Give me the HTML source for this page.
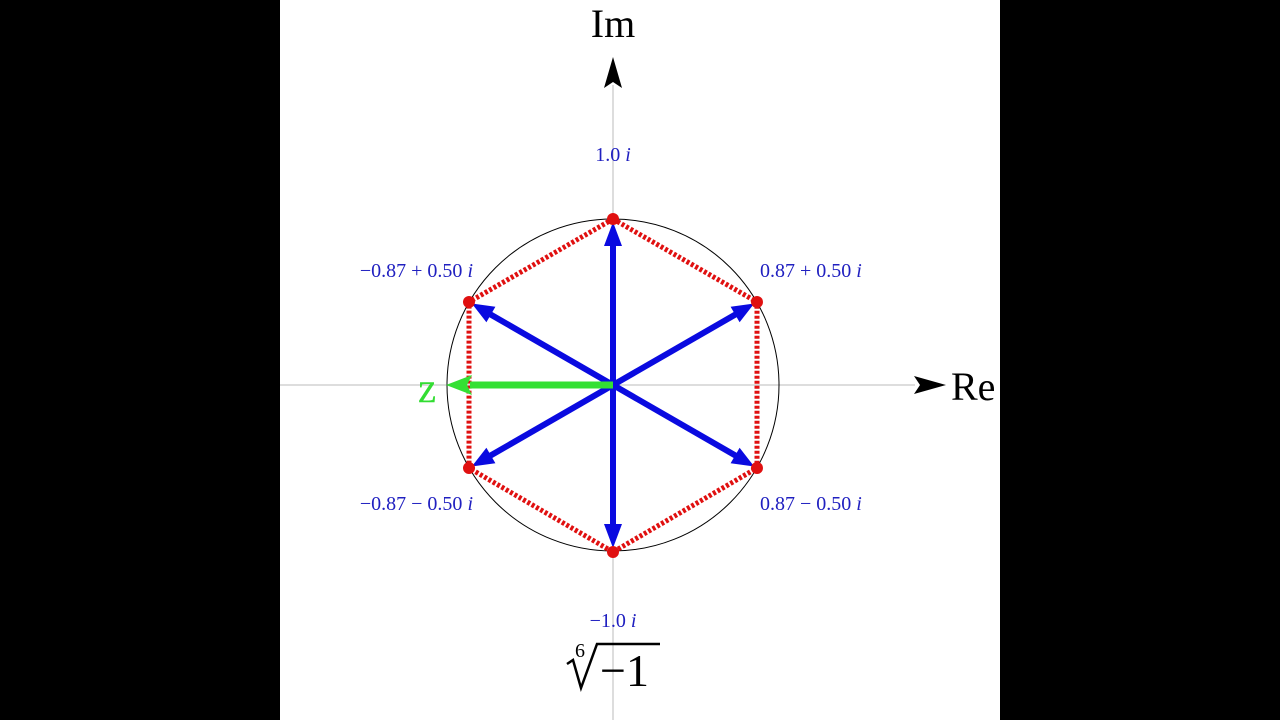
<!DOCTYPE html>
<html><head><style>body{margin:0;background:#000}svg{display:block}</style></head>
<body>
<svg width="1280" height="720" xmlns="http://www.w3.org/2000/svg" font-family="Liberation Serif, serif">
<rect x="0" y="0" width="1280" height="720" fill="#000"/>
<rect x="280" y="0" width="720" height="720" fill="#fff"/>
<line x1="280" y1="385" x2="915" y2="385" stroke="#bbb" stroke-width="1"/>
<line x1="613" y1="85" x2="613" y2="720" stroke="#bbb" stroke-width="1"/>
<polygon points="613,57 604,88 613,82 622,88" fill="#000"/>
<polygon points="946,385 914,376 920,385 914,394" fill="#000"/>
<text x="613" y="37" font-size="40" text-anchor="middle">Im</text>
<text x="951" y="400" font-size="40">Re</text>
<circle cx="613" cy="385" r="166" fill="none" stroke="#000" stroke-width="1"/>
<polygon points="613,219 757,302 757,468 613,552 469,468 469,302" fill="none" stroke="#e01010" stroke-width="5" stroke-dasharray="3 2"/>
<g stroke="#0a0ae0" stroke-width="6">
<line x1="613" y1="385" x2="613" y2="240"/>
<line x1="613" y1="385" x2="613" y2="530"/>
<line x1="613" y1="385" x2="738" y2="313"/>
<line x1="613" y1="385" x2="488" y2="313"/>
<line x1="613" y1="385" x2="488" y2="457"/>
<line x1="613" y1="385" x2="738" y2="457"/>
</g>
<g fill="#0a0ae0">
<polygon points="613,222 604,246 622,246"/>
<polygon points="613,548 604,524 622,524"/>
<polygon points="754.2,303.5 739.6,322.3 730.6,306.7"/>
<polygon points="471.8,303.5 495.4,306.7 486.4,322.3"/>
<polygon points="471.8,466.5 486.4,447.7 495.4,463.3"/>
<polygon points="754.2,466.5 739.6,447.7 730.6,463.3"/>
</g>
<line x1="613" y1="385" x2="470" y2="385" stroke="#33e033" stroke-width="7"/>
<polygon points="446,385 472,375 467,385 472,395" fill="#33e033"/>
<text x="418" y="402" font-size="30" fill="#33dd33" stroke="#33dd33" stroke-width="0.6">Z</text>
<g fill="#e01010">
<circle cx="613" cy="219" r="6"/><circle cx="757" cy="302" r="6"/><circle cx="757" cy="468" r="6"/>
<circle cx="613" cy="552" r="6"/><circle cx="469" cy="468" r="6"/><circle cx="469" cy="302" r="6"/>
</g>
<g fill="#2020c0" font-size="20">
<text x="613" y="161" text-anchor="middle">1.0 <tspan font-style="italic">i</tspan></text>
<text x="760" y="277">0.87 + 0.50 <tspan font-style="italic">i</tspan></text>
<text x="473" y="277" text-anchor="end">−0.87 + 0.50 <tspan font-style="italic">i</tspan></text>
<text x="760" y="510">0.87 − 0.50 <tspan font-style="italic">i</tspan></text>
<text x="473" y="510" text-anchor="end">−0.87 − 0.50 <tspan font-style="italic">i</tspan></text>
<text x="613" y="627" text-anchor="middle">−1.0 <tspan font-style="italic">i</tspan></text>
</g>
<text x="575" y="657" font-size="20">6</text>
<path d="M567,664 L573,660 L581,688 L597,644 L660,644" fill="none" stroke="#000" stroke-width="2.5" stroke-linejoin="miter"/>
<text x="600" y="686" font-size="46">−1</text>
</svg>
</body></html>
